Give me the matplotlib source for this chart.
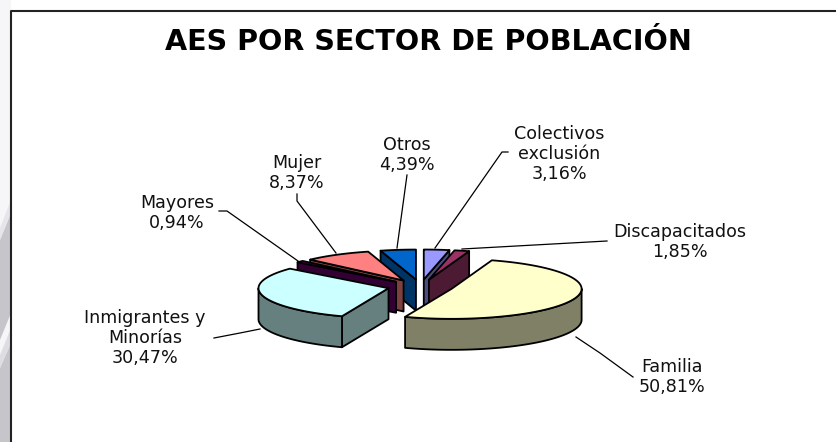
import matplotlib
matplotlib.use("Agg")
import matplotlib.pyplot as plt
import numpy as np

# Data
categories = ["Colectivos\nexclusión", "Discapacitados", "Familia",
              "Inmigrantes y\nMinorías", "Mayores", "Mujer", "Otros"]
values = [3.16, 1.85, 50.81, 30.47, 0.94, 8.37, 4.39]
value_labels = ["3,16%", "1,85%", "50,81%", "30,47%", "0,94%", "8,37%", "4,39%"]
top_colors = ["#9999FF", "#993366", "#FFFFCC", "#CCFFFF", "#660066", "#FF8080", "#0066CC"]
wall_colors = ["#4D4D80", "#4D1A33", "#808066", "#668080", "#330033", "#804040", "#003366"]
title = "AES POR SECTOR DE POBLACIÓN"

# where the labels sit (pixels) and the leader line of each one
label_pos = [(559, 154), (680, 242), (672, 377), (145, 338), (177, 213), (297, 173), (407, 155)]
leaders = [
    [(508, 152), (502, 152), (435, 248)],
    [(607, 241), (462, 249)],
    [(576, 337), (600, 353), (633, 377)],
    [(260, 329), (240, 333), (214, 338)],
    [(219, 211), (227, 211), (298, 261)],
    [(297, 194), (297, 201), (336, 253)],
    [(407, 175), (397, 248)],
]

# pie geometry
cx, cy = 420.5, 286.5
rx, ry = 130, 30
depth = 31
explode_x, explode_y = 33, 7
back_to_front = [6, 0, 1, 5, 4, 3, 2]


def edge_point(center, theta):
    return (center[0] + rx * np.sin(theta), center[1] - ry * np.cos(theta))


def draw_wall(ax, center, theta, wall):
    px, py = edge_point(center, theta)
    ax.fill([center[0], px, px, center[0]],
            [center[1], py, py + depth, center[1] + depth],
            facecolor=wall, edgecolor="black", lw=1.3, joinstyle="round")


def draw_wedge(ax, start, end, top, wall):
    mid = (start + end) / 2
    center = (cx + explode_x * np.sin(mid), cy - explode_y * np.cos(mid))

    # walls on the cut sides, only the ones turned to the viewer
    if np.pi < start < 2 * np.pi:
        draw_wall(ax, center, start, wall)
    if 0 < end < np.pi:
        draw_wall(ax, center, end, wall)

    # outer wall, front half of the rim only
    lo, hi = max(start, np.pi / 2), min(end, 3 * np.pi / 2)
    if lo < hi:
        t = np.linspace(lo, hi, 80)
        x = center[0] + rx * np.sin(t)
        y = center[1] - ry * np.cos(t)
        ax.fill(np.r_[x, x[::-1]], np.r_[y, y[::-1] + depth], facecolor=wall,
                edgecolor="black", lw=1.3, joinstyle="round")

    t = np.linspace(start, end, 80)
    x = np.r_[center[0], center[0] + rx * np.sin(t)]
    y = np.r_[center[1], center[1] - ry * np.cos(t)]
    ax.fill(x, y, facecolor=top, edgecolor="black", lw=1.3, joinstyle="round")


def main():
    fig = plt.figure(figsize=(8.36, 4.42), dpi=100)
    ax = fig.add_axes([0, 0, 1, 1])
    ax.set_xlim(0, 836)
    ax.set_ylim(442, 0)
    ax.axis("off")

    # grey slide background showing on the left
    ax.fill([0, 11, 11, 0], [0, 0, 442, 442], color="#F6F6F9", lw=0)
    ax.fill([0, 11, 11, 0], [240, 213, 313, 340], color="#C6C6CA", lw=0)
    ax.fill([0, 11, 11, 0], [228, 200, 213, 240], color="#E6E6EA", lw=0)
    ax.fill([0, 11, 11, 0], [368, 343, 442, 442], color="#C6C6CA", lw=0)
    ax.fill([0, 11, 11, 0], [355, 328, 343, 368], color="#DEDEE2", lw=0)

    ax.plot([11, 11, 836], [442, 11, 11], color="#222222", lw=1.5)

    edges = np.r_[0, np.cumsum(values)] / sum(values) * 2 * np.pi
    for i in back_to_front:
        draw_wedge(ax, edges[i], edges[i + 1], top_colors[i], wall_colors[i])

    for pts in leaders:
        xs, ys = zip(*pts)
        ax.plot(xs, ys, color="black", lw=0.9)

    for name, val, (x, y) in zip(categories, value_labels, label_pos):
        ax.text(x, y, f"{name}\n{val}", ha="center", va="center", fontsize=12.6,
                linespacing=1.14, color="#111111", family="DejaVu Sans")

    ax.text(428, 42.5, title, ha="center", va="center", fontsize=20.6,
            fontweight="bold", color="black", family="DejaVu Sans")

    fig.savefig("out.png", dpi=100)


if __name__ == "__main__":
    main()
